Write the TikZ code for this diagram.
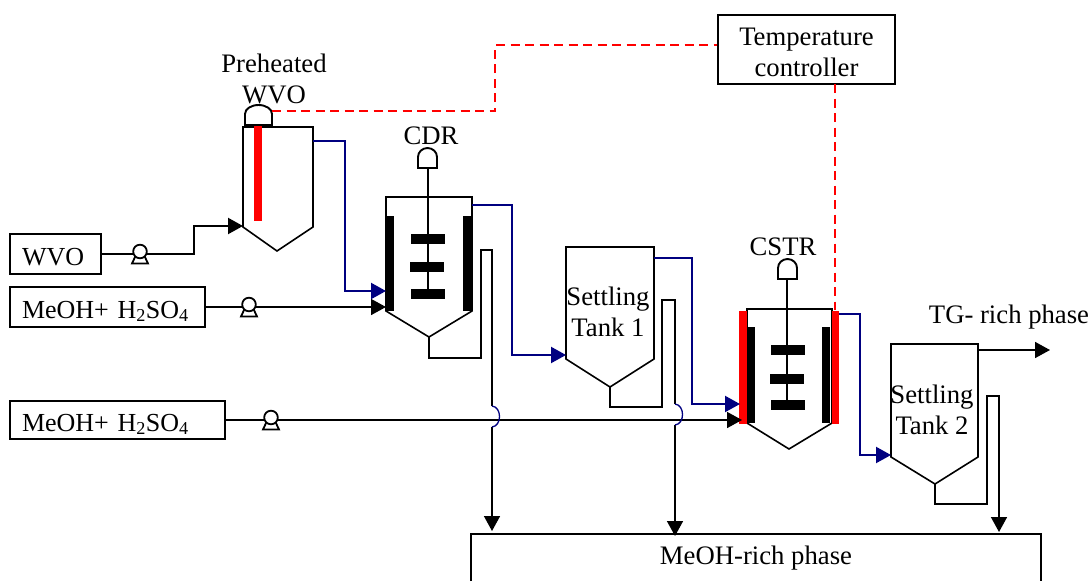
\documentclass[tikz,border=0pt]{standalone}
\usepackage{fontspec}
\setmainfont{Liberation Serif}
\usetikzlibrary{arrows.meta}
\definecolor{flowblue}{RGB}{0,0,128}
\tikzset{
    label/.style={font=\fontsize{26.7}{30.5}\selectfont, inner sep=0pt, align=center},
    unitbox/.style={draw, line width=1.6pt, font=\fontsize{26.7}{30.5}\selectfont, inner sep=0pt, align=center},
    feedbox/.style={unitbox, font=\fontsize{26}{30}\selectfont, align=left, inner xsep=12pt, text height=24pt, text depth=2pt},
    pipe/.style={line width=1.6pt},
    hotpipe/.style={line width=2.1pt, flowblue},
    vessel/.style={draw, line width=1.6pt},
    signal/.style={red, dash pattern=on 9pt off 5.5pt, line width=2.2pt},
}
\newcommand{\pumpsym}[1]{
    \fill[white] (#1) ++(-7,-9) rectangle ++(14,19);
    \draw[line width=1.8pt, fill=white] (#1) ++(-4,1) -- ++(-4,8.5) -- ++(16,0) -- ++(-4,-8.5) -- cycle;
    \draw[line width=1.8pt, fill=white] (#1) ++(0,-2.5) circle (6.8pt);
}
\newcommand{\motorsym}[2]{
    \draw[line width=1.9pt, fill=white] (#1) ++(-#2,0) -- ++(0,-11) arc[start angle=180, end angle=0, x radius=#2pt, y radius=9pt] -- ++(0,11) -- cycle;
}
\begin{document}
\begin{tikzpicture}[x=1pt, y=-1pt, >={Triangle[length=15pt, width=16pt]}]
    \useasboundingbox (0,0) rectangle (1091,581);
    % Feed boxes and controller
    \node[feedbox, text width=67pt, minimum height=40pt] (wvo) at (55.5,254) {WVO};
    \node[feedbox, text width=171pt, minimum height=40pt] (feedone) at (107.5,307) {MeOH+ H\textsubscript{2}SO\textsubscript{4}};
    \node[feedbox, text width=191pt, minimum height=38pt] (feedtwo) at (117.5,420) {MeOH+ H\textsubscript{2}SO\textsubscript{4}};
    \node[unitbox, minimum width=177pt, minimum height=69pt] (ctrl) at (806.5,49.5) {};
    % Labels
    \node[label] (lblctrl) at (806.5,52.5) {Temperature\\controller};
    \node[label] (lblheat) at (274,79) {Preheated\\WVO};
    \node[label] (lblcdr) at (431,136) {CDR};
    \node[label] (lblcstr) at (783,247) {CSTR};
    \node[label] (lblone) at (608,312) {Settling\\Tank 1};
    \node[label] (lbltwo) at (932,410) {Settling\\Tank 2};
    \node[label] (lbltg) at (1009,317) {TG- rich phase};
    \node[label] (lblmeoh) at (756,558) {MeOH-rich phase};
    % Vessels
    \draw[vessel] (243,127) -- (313,127) -- (313,227) -- (277,251) -- (243,227) -- cycle;
    \draw[vessel] (386,197) -- (472,197) -- (472,311) -- (429,337) -- (386,311) -- cycle;
    \draw[vessel] (566,247) -- (654,247) -- (654,359) -- (610,387) -- (566,359) -- cycle;
    \draw[vessel] (747,309) -- (832,309) -- (832,423) -- (789,449) -- (747,423) -- cycle;
    \draw[vessel] (891,344) -- (978,344) -- (978,457) -- (935,484) -- (891,457) -- cycle;
    \draw[vessel] (471,581) -- (471,534) -- (1041,534) -- (1041,581);
    % Heaters and baffles
    \fill[red] (254,125) rectangle (262,221);
    \fill[red] (739,311) rectangle (747,424);
    \fill[red] (832,311) rectangle (839,424);
    \foreach \x in {386,463} \fill (\x,216) rectangle ++(8,95);
    \foreach \x in {747,822} \fill (\x,327) rectangle ++(8,96);
    % Agitators
    \draw[line width=2.2pt] (428,168) -- (428,294);
    \foreach \y/\x in {234/411,262/410,289/411} \fill (\x,\y) rectangle ++(34,9.5);
    \draw[line width=2.2pt] (787,279) -- (787,406);
    \foreach \y/\x in {345/771,374/770,400/771} \fill (\x,\y) rectangle ++(34,9.5);
    \motorsym{258.5,125}{13.5}
    \motorsym{427.5,168}{9.5}
    \motorsym{787.5,279}{9.5}
    % Junction points
    \coordinate (pumpa) at (140,254);
    \coordinate (pumpb) at (249,307);
    \coordinate (pumpc) at (271,420);
    \coordinate (inheat) at (243,226);
    \coordinate (incdr) at (386,307);
    \coordinate (incstr) at (742,420);
    \coordinate (hopa) at (492,406);
    \coordinate (hopb) at (492,427);
    \coordinate (hopc) at (675,404);
    \coordinate (hopd) at (675,425);
    \coordinate (sinka) at (492,531);
    \coordinate (sinkb) at (675,536);
    \coordinate (sinkc) at (999,532);
    \coordinate (tgout) at (1050,350);
    % Feed lines
    \draw[pipe] (wvo.east) -- (pumpa);
    \draw[->, line width=2.2pt] (pumpa) -- (194,254) -- (194,226) -- (inheat);
    \draw[pipe, ->] (feedone.east) -- (incdr);
    \draw[pipe, ->] (feedtwo.east) -- (incstr);
    \pumpsym{pumpa}
    \pumpsym{pumpb}
    \pumpsym{pumpc}
    % Transfer lines
    \draw[hotpipe, ->] (313,141) -- (345,141) -- (345,291) -- (386,291);
    \draw[hotpipe, ->] (472,205) -- (512,205) -- (512,355) -- (566,355);
    \draw[hotpipe, ->] (654,258) -- (692,258) -- (692,404) -- (740,404);
    \draw[hotpipe, ->] (839,314) -- (860,314) -- (860,455) -- (891,455);
    % Bottom draws
    \draw[pipe] (429,337) -- (429,358) -- (481,358) -- (481,250) -- (492,250) -- (hopa);
    \draw[pipe] (610,387) -- (610,407) -- (662,407) -- (662,300) -- (675,300) -- (hopc);
    \draw[pipe, ->] (hopb) -- (sinka);
    \draw[pipe, ->] (hopd) -- (sinkb);
    \draw[pipe, ->] (935,484) -- (935,504) -- (987,504) -- (987,396) -- (999,396) -- (sinkc);
    \draw[pipe, ->] (978,350) -- (tgout);
    % Line hops
    \draw[flowblue, line width=1.3pt] (hopa) .. controls (502,407) and (502,426) .. (hopb);
    \draw[flowblue, line width=1.3pt] (hopc) .. controls (685,405) and (685,424) .. (hopd);
    % Temperature signal
    \draw[signal] (272,111) -- (495,111) -- (495,45) -- (ctrl.west |- 0,45);
    \draw[signal] (835,84) -- (835,310);
\end{tikzpicture}
\end{document}
